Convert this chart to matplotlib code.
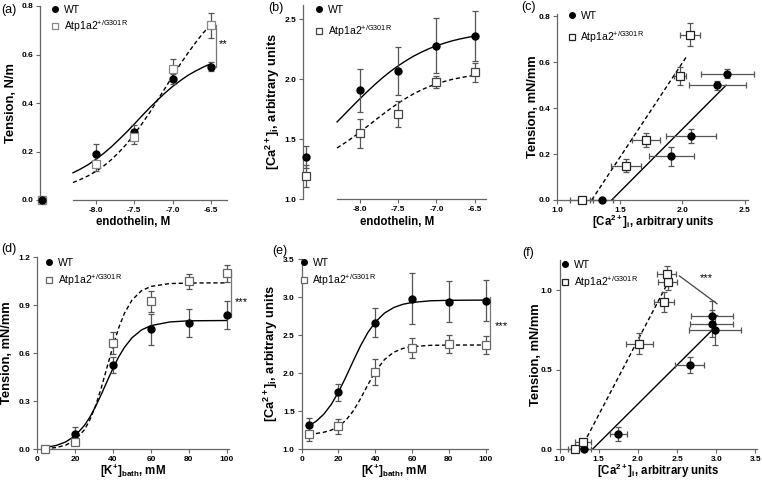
import matplotlib
matplotlib.use("Agg")
import matplotlib.pyplot as plt
from matplotlib.lines import Line2D
from matplotlib.ticker import FormatStrFormatter

plt.rcParams["font.family"] = ["Liberation Sans", "DejaVu Sans"]
plt.rcParams["mathtext.fontset"] = "custom"
plt.rcParams["mathtext.rm"] = "Liberation Sans"
plt.rcParams["mathtext.bf"] = "Liberation Sans:bold"
plt.rcParams["mathtext.it"] = "Liberation Sans:italic"
plt.rcParams["axes.unicode_minus"] = False

# ---- data -------------------------------------------------------------
# endothelin series (log M), control shown separately at the left
endo_logM = [-8.0, -7.5, -7.0, -6.5]

tension_endo_wt = [0.19, 0.28, 0.50, 0.55]
tension_endo_wt_err = [0.04, 0.03, 0.02, 0.02]
tension_endo_mut = [0.15, 0.26, 0.54, 0.72]
tension_endo_mut_err = [0.03, 0.03, 0.04, 0.05]
tension_ctrl_wt, tension_ctrl_mut = 0.0, 0.0

ca_endo_wt = [1.91, 2.07, 2.28, 2.36]
ca_endo_wt_err = [0.18, 0.20, 0.23, 0.21]
ca_endo_mut = [1.55, 1.71, 1.98, 2.06]
ca_endo_mut_err = [0.12, 0.11, 0.05, 0.08]
ca_ctrl_wt, ca_ctrl_wt_err = 1.355, 0.09
ca_ctrl_mut, ca_ctrl_mut_err = 1.195, 0.09

# fitted curves (a) and (b)
fit_endo_x = [-8.3, -8.2, -8.1, -8.0, -7.9, -7.8, -7.7, -7.6, -7.5, -7.4,
              -7.3, -7.2, -7.1, -7.0, -6.9, -6.8, -6.7, -6.6, -6.5]
fit_tension_endo_wt = [0.112, 0.128, 0.146, 0.168, 0.192, 0.219, 0.249, 0.280,
                       0.313, 0.347, 0.380, 0.411, 0.441, 0.468, 0.492, 0.514,
                       0.532, 0.548, 0.562]
fit_tension_endo_mut = [0.072, 0.085, 0.100, 0.118, 0.140, 0.166, 0.197, 0.231,
                        0.271, 0.314, 0.360, 0.410, 0.460, 0.511, 0.560, 0.606,
                        0.649, 0.689, 0.723]
fit_ca_endo_wt = [1.645, 1.710, 1.775, 1.839, 1.901, 1.960, 2.016, 2.067, 2.113,
                  2.155, 2.193, 2.226, 2.255, 2.280, 2.301, 2.320, 2.336, 2.349,
                  2.361]
fit_ca_endo_mut = [1.428, 1.469, 1.513, 1.561, 1.610, 1.660, 1.709, 1.757, 1.801,
                   1.842, 1.879, 1.911, 1.939, 1.962, 1.982, 1.999, 2.012, 2.024,
                   2.033]

# linear fits in panel (c)
line_c_wt_x, line_c_wt_y = [1.435, 2.35], [0.0, 0.50]
line_c_mut_x, line_c_mut_y = [1.275, 2.04], [0.0, 0.63]

# KCl series
k_bath = [4, 20, 40, 60, 80, 100]

tension_k_wt = [0.0, 0.095, 0.53, 0.75, 0.79, 0.84]
tension_k_wt_err = [0.0, 0.045, 0.05, 0.097, 0.085, 0.09]
tension_k_mut = [0.0, 0.045, 0.665, 0.925, 1.05, 1.10]
tension_k_mut_err = [0.0, 0.02, 0.068, 0.065, 0.048, 0.053]

ca_k_wt = [1.315, 1.75, 2.66, 2.98, 2.94, 2.95]
ca_k_wt_err = [0.09, 0.11, 0.19, 0.33, 0.27, 0.27]
ca_k_mut = [1.20, 1.30, 2.02, 2.33, 2.38, 2.37]
ca_k_mut_err = [0.09, 0.10, 0.17, 0.13, 0.12, 0.12]

fit_k_x = [4, 10, 15, 20, 25, 28, 31, 34, 37, 40, 43, 46, 50, 55, 60, 70, 80, 90, 100]
fit_tension_k_wt = [0.011, 0.024, 0.046, 0.085, 0.151, 0.206, 0.273, 0.349, 0.429,
                    0.507, 0.578, 0.637, 0.697, 0.746, 0.773, 0.796, 0.803, 0.804,
                    0.805]
fit_tension_k_mut = [0.004, 0.011, 0.026, 0.058, 0.124, 0.190, 0.280, 0.393, 0.520,
                     0.647, 0.760, 0.850, 0.933, 0.991, 1.018, 1.036, 1.039, 1.040,
                     1.040]
fit_ca_k_x = [4, 8, 12, 16, 20, 24, 28, 32, 36, 40, 45, 50, 55, 60, 70, 80, 90, 100]
fit_ca_k_wt = [1.310, 1.371, 1.461, 1.587, 1.752, 1.949, 2.159, 2.361, 2.535, 2.671,
               2.789, 2.862, 2.905, 2.929, 2.951, 2.957, 2.959, 2.960]
fit_ca_k_mut = [1.200, 1.208, 1.224, 1.251, 1.300, 1.381, 1.503, 1.666, 1.849, 2.020,
                2.179, 2.275, 2.325, 2.349, 2.366, 2.369, 2.370, 2.370]

# linear fits in panel (f)
line_f_wt_x, line_f_wt_y = [1.42, 2.97], [0.0, 0.76]
line_f_mut_x, line_f_mut_y = [1.27, 2.37], [0.0, 1.035]

MUT_LABEL = r"Atp1a2$^{\mathrm{+/G301R}}$"

# ---- layout helpers ---------------------------------------------------
W, H = 762, 483
AX_COLOR = "#666666"
ERR_COLOR = "#555555"
CTRL_X = -8.70  # where the control points sit, on the y axis

fig = plt.figure(figsize=(W / 100, H / 100), dpi=100)


def fx(x):
    return x / W


def fy(y):
    return 1 - y / H


def add_panel(x0, y0, x1, y1):
    return fig.add_axes([fx(x0), fy(y1), (x1 - x0) / W, (y1 - y0) / H])


def style_axis(ax, xticks, yticks, xfmt, yfmt):
    for side in ["top", "right"]:
        ax.spines[side].set_visible(False)
    for side in ["left", "bottom"]:
        ax.spines[side].set_color(AX_COLOR)
        ax.spines[side].set_linewidth(0.9)
    ax.set_xticks(xticks)
    ax.set_yticks(yticks)
    ax.xaxis.set_major_formatter(FormatStrFormatter(xfmt))
    ax.yaxis.set_major_formatter(FormatStrFormatter(yfmt))
    ax.tick_params(direction="out", length=3, width=0.8, color=AX_COLOR,
                   labelsize=6, pad=2)
    for lab in ax.get_xticklabels() + ax.get_yticklabels():
        lab.set_fontweight("bold")
    ax.patch.set_alpha(0)


def set_labels(ax, xlabel, ylabel, xlab_px, ylab_px):
    ax.set_xlabel(xlabel, fontsize=8.3, fontweight="bold", va="center")
    ax.set_ylabel(ylabel, fontsize=9.3, fontweight="bold", va="center")
    ax.xaxis.set_label_coords(fx(xlab_px[0]), fy(xlab_px[1]), transform=fig.transFigure)
    ax.yaxis.set_label_coords(fx(ylab_px[0]), fy(ylab_px[1]), transform=fig.transFigure)


def add_legend(ax, x_px, y_px, spacing, edge):
    handles = [
        Line2D([], [], marker="o", ls="none", color="k", ms=4),
        Line2D([], [], marker="s", ls="none", mfc="white", mec=edge, mew=0.9, ms=4.5),
    ]
    ax.legend(handles, ["WT", MUT_LABEL], loc="upper left",
              bbox_to_anchor=(fx(x_px), fy(y_px)), bbox_transform=fig.transFigure,
              frameon=False, fontsize=7.5, handlelength=0.8, handletextpad=0.4,
              borderpad=0, borderaxespad=0, labelspacing=spacing)


def draw_points(ax, x, y, yerr=None, xerr=None, mut=False, edge="#444444"):
    ax.errorbar(x, y, yerr=yerr, xerr=xerr, fmt="none", ecolor=ERR_COLOR,
                elinewidth=0.9, capsize=2.2, capthick=0.9, zorder=2, clip_on=False)
    if mut:
        ax.plot(x, y, "s", mfc="white", mec=edge, mew=0.9, ms=5.5, zorder=4, clip_on=False)
    else:
        ax.plot(x, y, "o", color="k", ms=5, zorder=3, clip_on=False)


def panel_letter(text, x_px, y_px):
    fig.text(fx(x_px), fy(y_px), text, fontsize=9, ha="center", va="center")


SOLID = dict(color="k", lw=1.0, zorder=1)
DASHED = dict(color="k", lw=1.0, ls=(0, (3, 2)), zorder=1)

# ---- (a) tension vs endothelin ---------------------------------------
ax = add_panel(40, 6, 227, 200)
ax.set_xlim(-8.73, -6.29)
ax.set_ylim(0, 0.8)
style_axis(ax, endo_logM, [0, 0.2, 0.4, 0.6, 0.8], "%.1f", "%.1f")
ax.spines["bottom"].set_bounds(-8.30, -6.29)
ax.plot(fit_endo_x, fit_tension_endo_wt, **SOLID)
ax.plot(fit_endo_x, fit_tension_endo_mut, **DASHED)
draw_points(ax, endo_logM, tension_endo_wt, yerr=tension_endo_wt_err)
draw_points(ax, endo_logM, tension_endo_mut, yerr=tension_endo_mut_err, mut=True, edge="#888888")
ax.plot([CTRL_X], [tension_ctrl_mut], "s", mfc="white", mec="#888888", ms=5.5, zorder=4, clip_on=False)
ax.plot([CTRL_X], [tension_ctrl_wt], "o", color="k", ms=5, zorder=5, clip_on=False)
ax.plot([-6.43, -6.43], [tension_endo_wt[-1], tension_endo_mut[-1]], color="#777777", lw=0.9, clip_on=False)
ax.text(-6.40, 0.645, "**", fontsize=8, va="center", ha="left")
set_labels(ax, "endothelin, M", "Tension, N/m", (133, 222), (11, 103))
add_legend(ax, 51, 5, 0.3, "#888888")
panel_letter("(a)", 9, 10)

# ---- (b) Ca vs endothelin ----------------------------------------------
ax = add_panel(303, 5, 485.7, 199.3)
ax.set_xlim(-8.745, -6.356)
ax.set_ylim(1.0, 2.62)
style_axis(ax, endo_logM, [1.0, 1.5, 2.0, 2.5], "%.1f", "%.1f")
ax.spines["bottom"].set_bounds(-8.30, -6.356)
ax.plot(fit_endo_x, fit_ca_endo_wt, **SOLID)
ax.plot(fit_endo_x, fit_ca_endo_mut, **DASHED)
draw_points(ax, endo_logM, ca_endo_wt, yerr=ca_endo_wt_err)
draw_points(ax, endo_logM, ca_endo_mut, yerr=ca_endo_mut_err, mut=True)
draw_points(ax, [CTRL_X], [ca_ctrl_wt], yerr=[ca_ctrl_wt_err])
draw_points(ax, [CTRL_X], [ca_ctrl_mut], yerr=[ca_ctrl_mut_err], mut=True)
set_labels(ax, "endothelin, M", r"[Ca$^{\mathbf{2+}}$]$_{\mathbf{i}}$, arbitrary units",
           (397, 222), (273, 102))
add_legend(ax, 315, 5, 0.75, "#444444")
panel_letter("(b)", 276, 8)

# ---- (c) tension vs Ca (endothelin) ------------------------------------
ax = add_panel(557.3, 14, 748, 200)
ax.set_xlim(1.0, 2.525)
ax.set_ylim(0, 0.81)
style_axis(ax, [1.0, 1.5, 2.0, 2.5], [0, 0.2, 0.4, 0.6, 0.8], "%.1f", "%.1f")
ax.plot(line_c_wt_x, line_c_wt_y, **SOLID)
ax.plot(line_c_mut_x, line_c_mut_y, **DASHED)
draw_points(ax, [ca_ctrl_wt] + ca_endo_wt, [tension_ctrl_wt] + tension_endo_wt,
            xerr=[ca_ctrl_wt_err] + ca_endo_wt_err, yerr=[0.0] + tension_endo_wt_err)
draw_points(ax, [ca_ctrl_mut] + ca_endo_mut, [tension_ctrl_mut] + tension_endo_mut,
            xerr=[ca_ctrl_mut_err] + ca_endo_mut_err, yerr=[0.0] + tension_endo_mut_err,
            mut=True, edge="#222222")
set_labels(ax, r"[Ca$^{\mathbf{2+}}$]$_{\mathbf{i}}$, arbitrary units", "Tension, mN/mm",
           (653, 222), (533, 107))
add_legend(ax, 568, 11, 0.8, "#222222")
panel_letter("(c)", 528, 7)

# ---- (d) tension vs KCl ------------------------------------------------
ax = add_panel(37.3, 257.3, 228.6, 449.3)
ax.set_xlim(0, 101)
ax.set_ylim(0, 1.2)
style_axis(ax, [0, 20, 40, 60, 80, 100], [0, 0.3, 0.6, 0.9, 1.2], "%d", "%.1f")
ax.plot(fit_k_x, fit_tension_k_wt, **SOLID)
ax.plot(fit_k_x, fit_tension_k_mut, **DASHED)
draw_points(ax, k_bath, tension_k_wt, yerr=tension_k_wt_err)
draw_points(ax, k_bath, tension_k_mut, yerr=tension_k_mut_err, mut=True, edge="#666666")
ax.plot([102.3, 102.3], [0.83, 1.10], color="#777777", lw=0.9, clip_on=False)
ax.text(104, 0.92, "***", fontsize=8, va="center", ha="left")
set_labels(ax, r"[K$^{\mathbf{+}}$]$_{\mathbf{bath}}$, mM", "Tension, mN/mm",
           (133, 471), (7, 353))
add_legend(ax, 45, 258, 0.4, "#666666")
panel_letter("(d)", 9, 249)

# ---- (e) Ca vs KCl -----------------------------------------------------
ax = add_panel(301.7, 259, 487.5, 449.3)
ax.set_xlim(0, 101)
ax.set_ylim(1.0, 3.5)
style_axis(ax, [0, 20, 40, 60, 80, 100], [1.0, 1.5, 2.0, 2.5, 3.0, 3.5], "%d", "%.1f")
ax.plot(fit_ca_k_x, fit_ca_k_wt, **SOLID)
ax.plot(fit_ca_k_x, fit_ca_k_mut, **DASHED)
draw_points(ax, k_bath, ca_k_wt, yerr=ca_k_wt_err)
draw_points(ax, k_bath, ca_k_mut, yerr=ca_k_mut_err, mut=True, edge="#666666")
ax.plot([102.2, 102.2], [2.44, 3.0], color="#777777", lw=0.9, clip_on=False)
ax.text(104.8, 2.62, "***", fontsize=8, va="center", ha="left")
set_labels(ax, r"[K$^{\mathbf{+}}$]$_{\mathbf{bath}}$, mM",
           r"[Ca$^{\mathbf{2+}}$]$_{\mathbf{i}}$, arbitrary units", (394, 471), (271, 354))
add_legend(ax, 300, 258, 0.4, "#666666")
panel_letter("(e)", 280, 251)

# ---- (f) tension vs Ca (KCl) -------------------------------------------
ax = add_panel(559.5, 260, 757, 449.3)
ax.set_xlim(1.0, 3.52)
ax.set_ylim(0, 1.19)
style_axis(ax, [1.0, 1.5, 2.0, 2.5, 3.0, 3.5], [0, 0.5, 1.0], "%.1f", "%.1f")
ax.plot(line_f_wt_x, line_f_wt_y, **SOLID)
ax.plot(line_f_mut_x, line_f_mut_y, **DASHED)
draw_points(ax, ca_k_wt, tension_k_wt, xerr=ca_k_wt_err, yerr=tension_k_wt_err)
draw_points(ax, ca_k_mut, tension_k_mut, xerr=ca_k_mut_err, yerr=tension_k_mut_err,
            mut=True, edge="#222222")
ax.plot([2.53, 3.01], [1.09, 0.915], color="#444444", lw=0.9, clip_on=False)
ax.text(2.88, 1.075, "***", fontsize=8, va="center", ha="center")
set_labels(ax, r"[Ca$^{\mathbf{2+}}$]$_{\mathbf{i}}$, arbitrary units", "Tension, mN/mm",
           (658, 471), (536, 355))
add_legend(ax, 561, 260, 0.4, "#222222")
panel_letter("(f)", 528, 253)

fig.savefig("out.png", dpi=100)
